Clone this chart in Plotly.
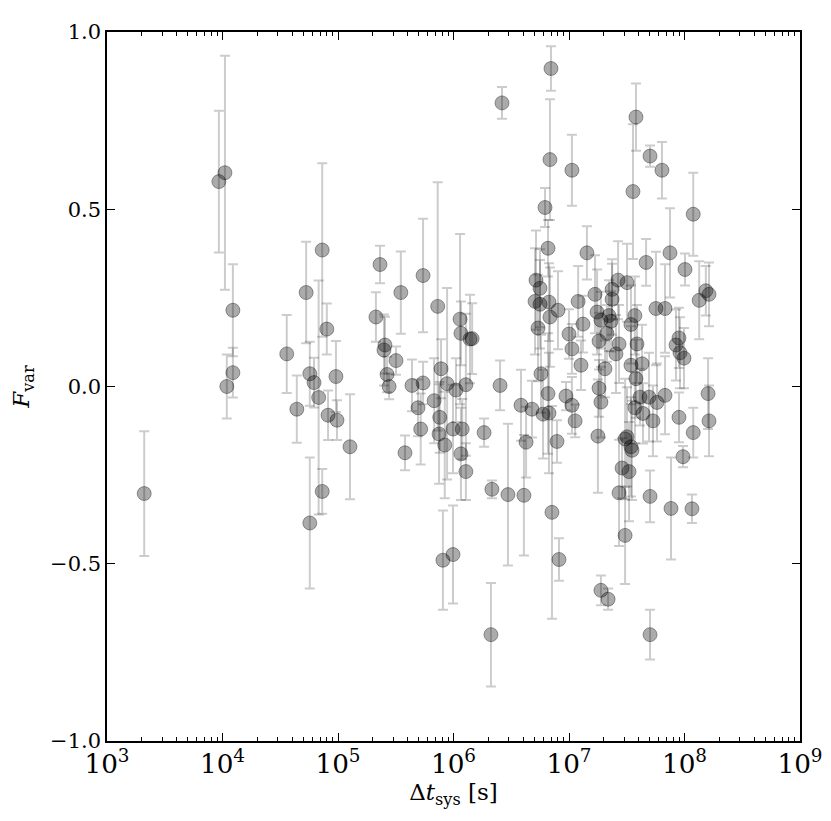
import plotly.graph_objects as go

# system time-scale (s), fractional variability and its 1-sigma error
dt_sys = [
    2.1e3, 9.3e3, 1.05e4, 1.23e4, 1.23e4, 1.09e4, 3.6e4, 4.4e4, 5.3e4, 5.7e4,
    6.2e4, 6.8e4, 7.3e4, 7.3e4, 8.0e4, 8.2e4, 9.6e4, 9.8e4, 1.27e5, 5.7e4,
    2.13e5, 2.31e5, 2.55e5, 2.5e5, 3.18e5, 2.66e5, 2.77e5, 3.5e5, 3.8e5, 5.45e5,
    7.3e5, 4.37e5, 5.45e5, 4.93e5, 5.2e5, 6.8e5, 7.6e5, 7.5e5, 7.8e5, 8.4e5,
    8.8e5, 1.05e6, 9.9e5, 1.14e6, 1.16e6, 1.19e6, 1.16e6, 1.28e6, 1.28e6, 1.39e6,
    1.45e6, 8.1e5, 9.9e5, 1.84e6, 2.15e6, 2.11e6, 2.63e6, 2.53e6, 2.96e6, 4.07e6,
    3.84e6, 4.25e6, 4.78e6, 5.18e6, 5.61e6, 5.08e6, 5.61e6, 5.39e6, 5.72e6, 5.96e6,
    6.71e6, 6.58e6, 6.2e6, 6.58e6, 6.84e6, 6.98e6, 6.71e6, 6.84e6, 8.03e6, 7.12e6,
    8.19e6, 7.87e6, 9.42e6, 1.0e7, 1.06e7, 1.06e7, 1.06e7, 1.13e7, 1.2e7, 1.27e7,
    1.32e7, 1.43e7, 1.68e7, 1.75e7, 1.89e7, 1.82e7, 1.82e7, 1.89e7, 1.78e7, 1.89e7,
    2.18e7, 2.05e7, 2.13e7, 2.22e7, 2.31e7, 2.36e7, 2.36e7, 2.66e7, 2.71e7, 2.55e7,
    2.71e7, 2.88e7, 3.06e7, 3.18e7, 3.18e7, 3.06e7, 3.31e7, 3.44e7, 3.51e7, 3.44e7,
    3.72e7, 3.88e7, 3.44e7, 3.80e7, 4.29e7, 3.58e7, 3.80e7, 4.12e7, 3.72e7, 4.37e7,
    4.93e7, 5.33e7, 5.78e7, 4.65e7, 5.03e7, 5.03e7, 5.03e7, 5.66e7, 6.38e7, 6.78e7,
    6.78e7, 7.49e7, 7.64e7, 8.96e7, 8.44e7, 9.14e7, 9.9e7, 8.96e7, 9.7e7, 1.01e8,
    1.19e8, 1.19e8, 1.16e8, 1.34e8, 1.53e8, 1.63e8, 1.6e8, 1.63e8,
]
f_var = [
    -0.302, 0.578, 0.603, 0.215, 0.039, 0.0, 0.092, -0.064, 0.265, 0.036,
    0.011, -0.031, -0.296, 0.385, 0.162, -0.081, 0.028, -0.095, -0.17, -0.385,
    0.196, 0.344, 0.117, 0.103, 0.073, 0.034, 0.0, 0.265, -0.187, 0.313,
    0.226, 0.003, 0.01, -0.06, -0.12, -0.04, -0.087, -0.134, 0.05, -0.165,
    0.008, -0.01, -0.12, 0.19, 0.15, -0.12, -0.19, 0.005, -0.24, 0.134,
    0.135, -0.49, -0.474, -0.13, -0.29, -0.70, 0.80, 0.003, -0.305, -0.307,
    -0.053, -0.157, -0.064, 0.30, 0.277, 0.24, 0.232, 0.165, 0.036, -0.078,
    -0.075, -0.02, 0.505, 0.39, 0.64, 0.897, 0.238, 0.196, 0.215, -0.355,
    -0.488, -0.155, -0.027, 0.148, 0.61, 0.106, -0.053, -0.097, 0.24, 0.06,
    0.176, 0.377, 0.26, 0.21, 0.187, 0.128, -0.005, -0.044, -0.14, -0.575,
    -0.60, 0.05, 0.15, 0.2, 0.184, 0.274, 0.246, 0.30, 0.12, 0.092,
    -0.30, -0.23, -0.148, -0.142, 0.293, -0.42, -0.24, -0.17, -0.18, 0.175,
    0.2, 0.12, 0.06, 0.022, 0.064, 0.55, 0.76, -0.03, -0.06, -0.076,
    -0.03, -0.097, -0.045, 0.35, 0.65, -0.31, -0.70, 0.22, 0.61, 0.22,
    -0.025, 0.377, -0.344, 0.137, 0.117, 0.095, 0.08, -0.087, -0.198, 0.33,
    0.486, -0.13, -0.345, 0.243, 0.27, 0.26, -0.02, -0.097,
]
f_err = [
    0.176, 0.2, 0.33, 0.13, 0.07, 0.09, 0.11, 0.095, 0.143, 0.09,
    0.07, 0.33, 0.063, 0.245, 0.072, 0.07, 0.1, 0.056, 0.148, 0.185,
    0.07, 0.053, 0.08, 0.1, 0.04, 0.05, 0.036, 0.116, 0.049, 0.16,
    0.35, 0.073, 0.06, 0.08, 0.1, 0.12, 0.1, 0.14, 0.083, 0.15,
    0.27, 0.09, 0.125, 0.24, 0.09, 0.085, 0.13, 0.2, 0.08, 0.125,
    0.1, 0.14, 0.138, 0.04, 0.025, 0.146, 0.045, 0.07, 0.2, 0.17,
    0.1, 0.1, 0.08, 0.14, 0.11, 0.15, 0.125, 0.15, 0.11, 0.125,
    0.17, 0.17, 0.055, 0.08, 0.17, 0.063, 0.11, 0.14, 0.11, 0.3,
    0.06, 0.06, 0.04, 0.07, 0.1, 0.07, 0.08, 0.046, 0.1, 0.07,
    0.08, 0.075, 0.11, 0.12, 0.08, 0.08, 0.08, 0.1, 0.16, 0.042,
    0.03, 0.08, 0.08, 0.1, 0.085, 0.085, 0.1, 0.11, 0.11, 0.11,
    0.15, 0.085, 0.17, 0.14, 0.11, 0.137, 0.14, 0.14, 0.14, 0.11,
    0.11, 0.11, 0.11, 0.11, 0.11, 0.19, 0.095, 0.08, 0.1, 0.085,
    0.125, 0.1, 0.11, 0.066, 0.03, 0.073, 0.07, 0.16, 0.08, 0.125,
    0.11, 0.126, 0.144, 0.085, 0.1, 0.1, 0.085, 0.07, 0.03, 0.045,
    0.117, 0.07, 0.04, 0.11, 0.07, 0.09, 0.1, 0.1,
]

serif = "DejaVu Serif"

fig = go.Figure()
fig.add_trace(go.Scatter(
    x=dt_sys, y=f_var, mode="markers",
    error_y=dict(type="data", array=f_err, visible=True,
                 color="rgba(0,0,0,0.2)", thickness=2, width=5),
    marker=dict(size=14, color="rgba(0,0,0,0.33)",
                line=dict(color="rgba(0,0,0,0.35)", width=1)),
    showlegend=False,
))

fig.update_xaxes(
    type="log", range=[3, 9], dtick=1, exponentformat="power",
    showgrid=False, zeroline=False, showline=True, linecolor="black",
    linewidth=1.5, mirror="allticks", ticks="inside", ticklen=8, tickcolor="black",
    minor=dict(ticks="inside", ticklen=4, tickcolor="black", dtick="D1", showgrid=False),
    tickfont=dict(family=serif, size=21, color="black"),
    title=dict(text="Δ<i>t</i><sub>sys</sub> [s]", font=dict(family=serif, size=23, color="black"),
               standoff=0),
)
fig.update_yaxes(
    range=[-1, 1], dtick=0.5, tickformat=".1f",
    showgrid=False, zeroline=False, showline=True, linecolor="black",
    linewidth=1.5, mirror="allticks", ticks="inside", ticklen=8, tickcolor="black",
    tickfont=dict(family=serif, size=21, color="black"),
    title=dict(text="<i>F</i><sub>var</sub>", font=dict(family=serif, size=23, color="black"),
               standoff=14),
)
# the page body has an 8px margin, so the margins are offset to land the axes where the reference has them
fig.update_layout(
    width=831, height=821,
    margin=dict(l=99, r=39, t=17, b=88),
    plot_bgcolor="white", paper_bgcolor="white",
)

fig.write_html("out.html")
